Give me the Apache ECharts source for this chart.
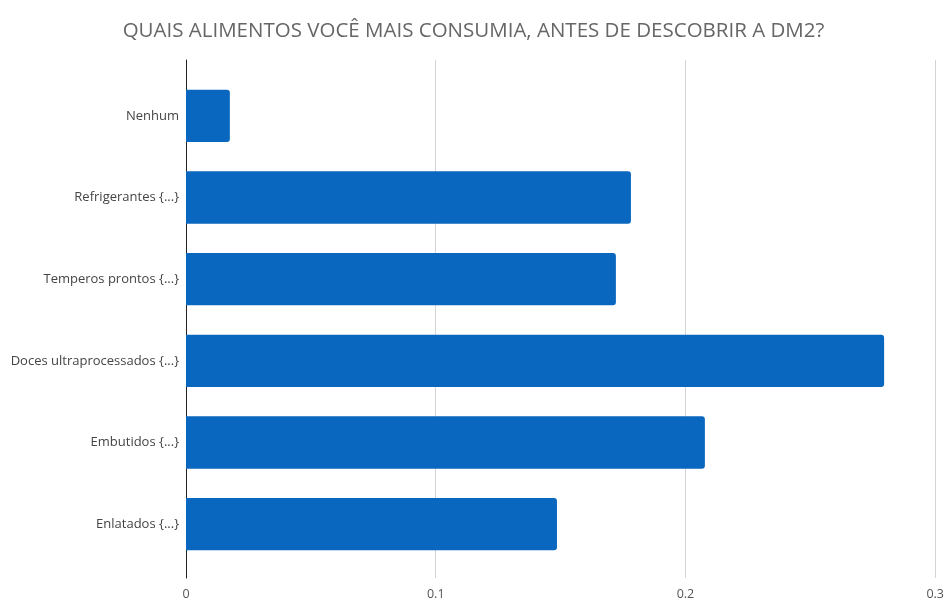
<!DOCTYPE html>
<html>
<head>
<meta charset="utf-8">
<script src="https://cdn.jsdelivr.net/npm/echarts@6/dist/echarts.min.js"></script>
<style>
  html, body { margin: 0; padding: 0; background: #ffffff; }
  #chart { width: 947px; height: 601px; }
</style>
</head>
<body>
<div id="chart"></div>
<script>
// Foods most consumed before the type 2 diabetes diagnosis (share of answers)
const categories = [
  'Nenhum',
  'Refrigerantes {...}',
  'Temperos prontos {...}',
  'Doces ultraprocessados {...}',
  'Embutidos {...}',
  'Enlatados {...}'
];
const shares = [0.0175, 0.1775, 0.1715, 0.2785, 0.207, 0.148];
const xTicks = [0, 0.1, 0.2, 0.3];

const xMin = xTicks[0];
const xMax = xTicks[xTicks.length - 1];
const xStep = xTicks[1] - xTicks[0];

const chart = echarts.init(document.getElementById('chart'), null, { renderer: 'canvas' });

chart.setOption({
  backgroundColor: '#ffffff',
  animation: false,
  title: {
    text: 'QUAIS ALIMENTOS VOCÊ MAIS CONSUMIA, ANTES DE DESCOBRIR A DM2?',
    left: 'center',
    top: 16,
    textStyle: {
      fontFamily: 'Open Sans',
      fontSize: 20.5,
      fontWeight: 'normal',
      color: '#666666'
    }
  },
  grid: [
    // bar area
    { left: 186, right: 9, top: 75, height: 490, containLabel: false },
    // frame with grid lines and value labels
    { left: 186, right: 9, top: 60, height: 520, containLabel: false }
  ],
  xAxis: [
    {
      gridIndex: 0, type: 'value', min: xMin, max: xMax, interval: xStep,
      axisLine: { show: false }, axisTick: { show: false },
      axisLabel: { show: false }, splitLine: { show: false }
    },
    {
      gridIndex: 1, type: 'value', min: xMin, max: xMax, interval: xStep,
      axisLine: { show: false }, axisTick: { show: false },
      axisLabel: {
        margin: 10,
        color: '#555555',
        fontFamily: 'Open Sans',
        fontSize: 12.5,
        formatter: v => String(Math.round(v * 10) / 10)
      },
      splitLine: { show: true, lineStyle: { color: '#d4d4d4', width: 1 } }
    }
  ],
  yAxis: [
    {
      gridIndex: 0, type: 'category', data: categories, inverse: true,
      axisLine: { show: false }, axisTick: { show: false },
      axisLabel: {
        margin: 7,
        color: '#444444',
        fontFamily: 'Open Sans',
        fontSize: 13
      },
      splitLine: { show: false }
    },
    {
      gridIndex: 1, type: 'value', min: 0, max: 1,
      axisLine: { show: true, onZero: false, lineStyle: { color: '#222222', width: 1 } },
      axisTick: { show: false }, axisLabel: { show: false }, splitLine: { show: false }
    }
  ],
  series: [
    {
      type: 'bar',
      xAxisIndex: 0,
      yAxisIndex: 0,
      data: shares,
      barCategoryGap: '36%',
      itemStyle: { color: '#0a67c0', borderRadius: [0, 3, 3, 0] }
    }
  ]
});
</script>
</body>
</html>
